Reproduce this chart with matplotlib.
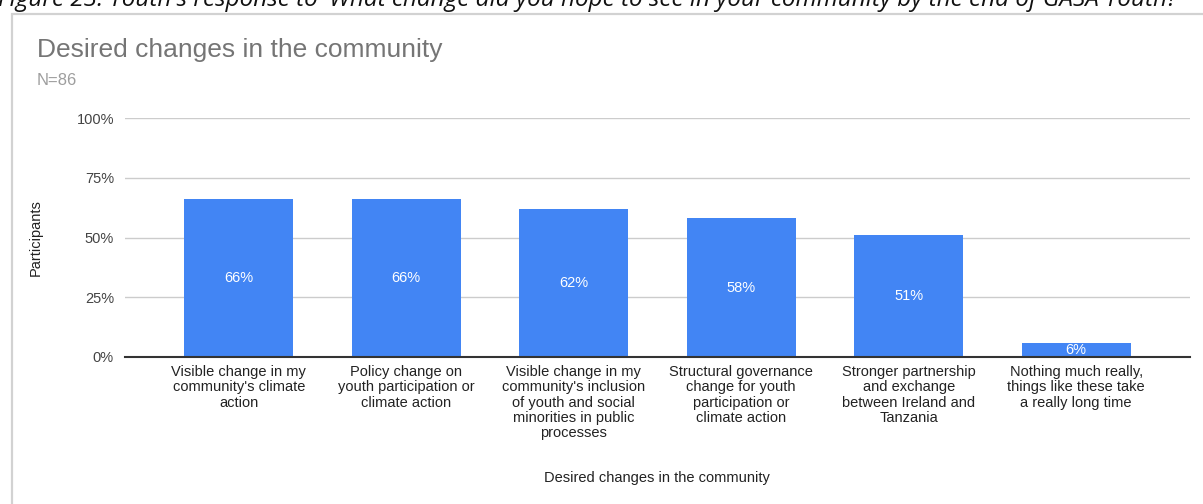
import matplotlib
matplotlib.use("Agg")
import matplotlib.pyplot as plt
from matplotlib.patches import Rectangle

categories = [
    "Visible change in my\ncommunity's climate\naction",
    "Policy change on\nyouth participation or\nclimate action",
    "Visible change in my\ncommunity's inclusion\nof youth and social\nminorities in public\nprocesses",
    "Structural governance\nchange for youth\nparticipation or\nclimate action",
    "Stronger partnership\nand exchange\nbetween Ireland and\nTanzania",
    "Nothing much really,\nthings like these take\na really long time",
]
values = [66, 66, 62, 58, 51, 6]
yticks = [0, 25, 50, 75, 100]
ytick_labels = ["0%", "25%", "50%", "75%", "100%"]

plt.rcParams['font.family'] = ['Liberation Sans', 'DejaVu Sans']

W, H = 1203, 504
fig = plt.figure(figsize=(W / 100, H / 100), dpi=100)

# caption, clipped at top (as in the reference)
fig.text(-2 / W, 1 - 6 / H,
         "Figure 23: Youth's response to 'What change did you hope to see in your community by the end of GASA Youth?'",
         fontsize=17.5, style='italic', color='#111111', va='baseline', ha='left',
         family=['Open Sans', 'DejaVu Sans'])

# chart frame
fig.patches.append(Rectangle((12 / W, -0.1), 1.2, 1 - 14 / H + 0.1, transform=fig.transFigure,
                             facecolor='white', edgecolor='#d2d2d2', linewidth=1.6, zorder=-5))

fig.text(37 / W, 1 - 57 / H, "Desired changes in the community", fontsize=19,
         color='#757575', va='baseline', ha='left')
fig.text(37 / W, 1 - 85 / H, "N=86", fontsize=12, color='#9e9e9e', va='baseline', ha='left')

ax = fig.add_axes([125 / W, (H - 357) / H, (1190 - 125) / W, (357 - 118) / H])
ax.set_facecolor('none')
x = list(range(len(categories)))
bars = ax.bar(x, values, width=0.65, color='#4285f4', zorder=3)
for xi, v in zip(x, values):
    ax.text(xi, v / 2, f"{v}%", ha='center', va='center', color='white', fontsize=10.5, zorder=4)

pad = 30 / 167.3
ax.set_xlim(-0.5 - pad, len(categories) - 0.5 + pad)
ax.set_ylim(0, 100)
ax.set_yticks(yticks)
ax.set_yticklabels(ytick_labels, fontsize=10.5, color='#444444')
ax.set_xticks(x)
ax.set_xticklabels(categories, fontsize=10.5, color='#222222', linespacing=1.1)
ax.tick_params(axis='both', length=0)
ax.tick_params(axis='y', pad=8)
ax.tick_params(axis='x', pad=6)
ax.grid(axis='y', color='#cccccc', linewidth=1, zorder=0)
for s in ['top', 'right', 'left']:
    ax.spines[s].set_visible(False)
ax.spines['bottom'].set_color('#333333')
ax.spines['bottom'].set_linewidth(1.5)
ax.spines['bottom'].set_zorder(5)

ax.set_ylabel("Participants", fontsize=10.5, color='#222222')
ax.yaxis.set_label_coords((43 - 125) / (1190 - 125), 0.5)
fig.text(657 / W, 1 - 478 / H, "Desired changes in the community",
         fontsize=10.5, color='#222222', ha='center', va='center')

fig.savefig("out.png", dpi=100)
